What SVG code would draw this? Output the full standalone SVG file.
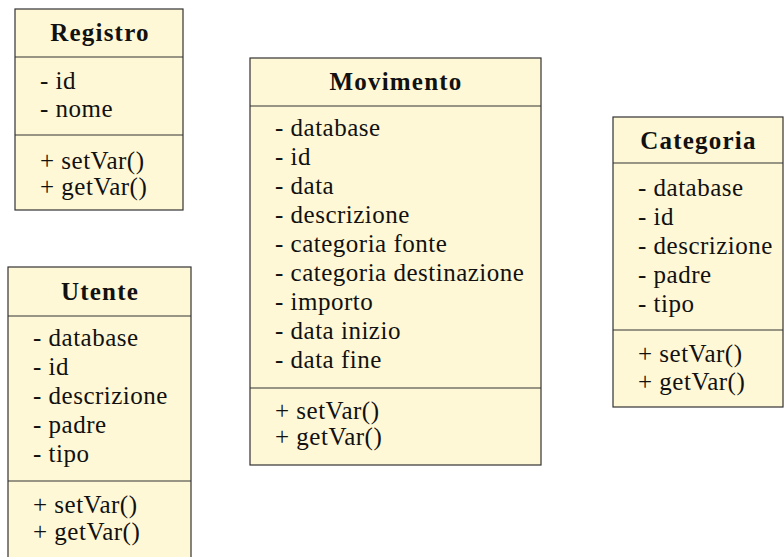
<svg xmlns="http://www.w3.org/2000/svg" width="784" height="557" viewBox="0 0 784 557">
<style>
.box{fill:#fff8d6;stroke:#333;stroke-width:1.2}
.div{stroke:#333;stroke-width:1.2}
.t{font-family:"Liberation Serif",serif;font-size:25px;letter-spacing:0.5px;fill:#111}
.h{font-family:"Liberation Serif",serif;font-size:25px;letter-spacing:1.2px;font-weight:bold;fill:#111;text-anchor:middle}
</style>
<rect width="784" height="557" fill="#fff"/>
<g id="connectors"/>
<g id="registro">
<rect class="box" x="15" y="9" width="168" height="201"/>
<line class="div" x1="15" y1="57" x2="183" y2="57"/>
<line class="div" x1="15" y1="135" x2="183" y2="135"/>
<text class="h" x="100" y="41">Registro</text>
<text class="t" x="40" y="89">- id</text>
<text class="t" x="40" y="117">- nome</text>
<text class="t" x="40" y="169">+ setVar()</text>
<text class="t" x="40" y="195">+ getVar()</text>
</g>
<g id="utente">
<rect class="box" x="8" y="267" width="183" height="300"/>
<line class="div" x1="8" y1="316" x2="191" y2="316"/>
<line class="div" x1="8" y1="481" x2="191" y2="481"/>
<text class="h" x="100" y="300">Utente</text>
<text class="t" x="33" y="346">- database</text>
<text class="t" x="33" y="375">- id</text>
<text class="t" x="33" y="404">- descrizione</text>
<text class="t" x="33" y="433">- padre</text>
<text class="t" x="33" y="462">- tipo</text>
<text class="t" x="33" y="513">+ setVar()</text>
<text class="t" x="33" y="540">+ getVar()</text>
</g>
<g id="movimento">
<rect class="box" x="250" y="58" width="291" height="407"/>
<line class="div" x1="250" y1="106" x2="541" y2="106"/>
<line class="div" x1="250" y1="388" x2="541" y2="388"/>
<text class="h" x="396" y="90">Movimento</text>
<text class="t" x="275" y="136">- database</text>
<text class="t" x="275" y="165">- id</text>
<text class="t" x="275" y="194">- data</text>
<text class="t" x="275" y="223">- descrizione</text>
<text class="t" x="275" y="252">- categoria fonte</text>
<text class="t" x="275" y="281">- categoria destinazione</text>
<text class="t" x="275" y="310">- importo</text>
<text class="t" x="275" y="339">- data inizio</text>
<text class="t" x="275" y="368">- data fine</text>
<text class="t" x="275" y="419">+ setVar()</text>
<text class="t" x="275" y="445">+ getVar()</text>
</g>
<g id="categoria">
<rect class="box" x="613" y="117" width="170" height="290"/>
<line class="div" x1="613" y1="163" x2="783" y2="163"/>
<line class="div" x1="613" y1="330" x2="783" y2="330"/>
<text class="h" x="698.5" y="149">Categoria</text>
<text class="t" x="638" y="196">- database</text>
<text class="t" x="638" y="225">- id</text>
<text class="t" x="638" y="254">- descrizione</text>
<text class="t" x="638" y="283">- padre</text>
<text class="t" x="638" y="312">- tipo</text>
<text class="t" x="638" y="362">+ setVar()</text>
<text class="t" x="638" y="390">+ getVar()</text>
</g>
</svg>
